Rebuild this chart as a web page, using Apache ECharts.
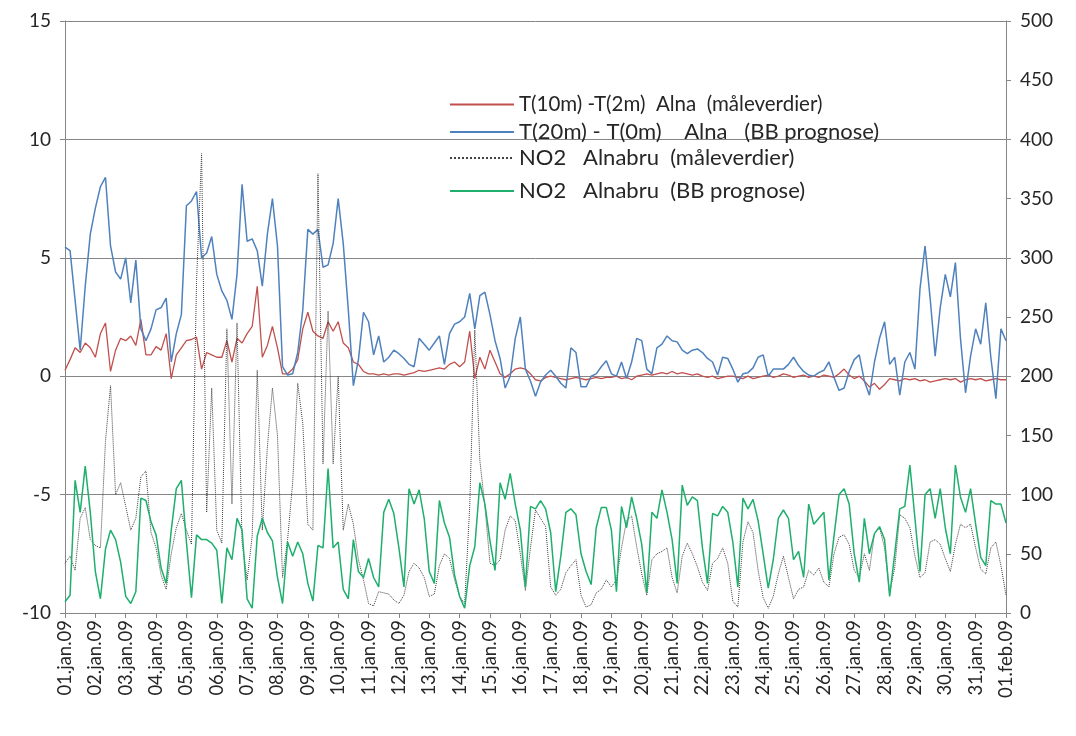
<!DOCTYPE html>
<html>
<head>
<meta charset="utf-8">
<script src="https://cdn.jsdelivr.net/npm/echarts@6/dist/echarts.min.js"></script>
<style>
html,body{margin:0;padding:0;background:#fff;}
#c{width:1076px;height:736px;}
</style>
</head>
<body>
<div id="c"></div>
<script>
// ---- data: 6 samples per day (every 4 h), 01.jan.09 00:00 .. 01.feb.09 00:00 ----
const STEPS_PER_DAY = 6;

const DATE_LABELS = ['01.jan.09','02.jan.09','03.jan.09','04.jan.09','05.jan.09','06.jan.09','07.jan.09','08.jan.09',
  '09.jan.09','10.jan.09','11.jan.09','12.jan.09','13.jan.09','14.jan.09','15.jan.09','16.jan.09','17.jan.09',
  '18.jan.09','19.jan.09','20.jan.09','21.jan.09','22.jan.09','23.jan.09','24.jan.09','25.jan.09','26.jan.09',
  '27.jan.09','28.jan.09','29.jan.09','30.jan.09','31.jan.09','01.feb.09'];

const SERIES_NAMES = [
  'T(10m) -T(2m)  Alna  (måleverdier)',
  'T(20m) - T(0m)    Alna   (BB prognose)',
  'NO2   Alnabru  (måleverdier)',
  'NO2   Alnabru  (BB prognose)'
];

// T(10m)-T(2m) measured, left axis
const T_MEAS = [
  0.25,0.7,1.2,1.0,1.4,1.2,
  0.8,1.8,2.25,0.2,1.1,1.6,
  1.5,1.7,1.3,2.4,0.9,0.9,
  1.25,1.1,1.8,-0.1,0.9,1.2,
  1.5,1.55,1.65,0.3,1.0,0.9,
  0.8,0.8,1.5,0.6,1.6,1.4,
  1.8,2.1,3.8,0.8,1.3,2.1,
  1.2,0.1,0.1,0.3,0.7,2.0,
  2.7,1.9,1.7,1.6,2.3,1.9,
  2.3,1.4,1.2,0.6,0.5,0.2,
  0.1,0.1,0.05,0.1,0.05,0.1,
  0.1,0.05,0.1,0.15,0.25,0.2,
  0.25,0.3,0.35,0.3,0.5,0.6,
  0.4,0.6,1.9,-0.1,0.8,0.3,
  1.1,0.6,0.1,-0.05,0.1,0.3,
  0.35,0.3,0.1,-0.15,-0.2,-0.05,
  0.0,-0.05,-0.1,-0.15,-0.1,-0.05,
  -0.1,-0.15,-0.1,-0.05,-0.1,-0.05,
  -0.05,0.0,-0.1,-0.05,-0.15,0.0,
  0.05,0.1,0.05,0.1,0.15,0.1,
  0.2,0.1,0.15,0.1,0.05,0.1,
  0.0,-0.05,0.0,-0.1,-0.05,0.0,
  0.0,-0.05,-0.1,0.0,-0.1,-0.05,
  0.0,0.05,-0.05,0.0,0.1,0.05,
  -0.05,0.0,0.05,-0.05,0.0,-0.05,
  0.05,0.0,-0.05,0.1,0.3,0.05,
  -0.1,0.0,-0.2,-0.45,-0.3,-0.55,
  -0.35,-0.1,-0.15,-0.2,-0.1,-0.15,
  -0.1,-0.2,-0.15,-0.25,-0.2,-0.15,
  -0.1,-0.15,-0.1,-0.25,-0.15,-0.1,
  -0.15,-0.1,-0.2,-0.15,-0.1,-0.15,
  -0.15
];

// T(20m)-T(0m) BB forecast, left axis
const T_PROG = [
  5.45,5.3,3.2,1.1,3.8,6.0,
  7.1,8.0,8.4,5.5,4.4,4.1,
  5.0,3.1,4.9,2.0,1.5,2.0,
  2.8,2.9,3.3,0.6,1.8,2.6,
  7.2,7.4,7.8,5.0,5.2,5.9,
  4.3,3.6,3.2,2.4,4.3,8.1,
  5.7,5.8,5.3,3.8,6.0,7.5,
  5.5,0.4,0.05,0.1,1.0,2.8,
  6.2,6.0,6.2,4.6,4.7,5.6,
  7.5,5.6,2.8,-0.4,0.7,2.7,
  2.3,0.9,1.7,0.6,0.8,1.1,
  0.95,0.75,0.5,0.4,1.6,1.35,
  1.1,1.4,1.7,0.5,1.8,2.2,
  2.3,2.5,3.5,2.0,3.4,3.55,
  2.6,1.5,0.75,-0.5,0.0,1.6,
  2.5,0.3,-0.2,-0.85,-0.25,0.05,
  0.25,0.0,-0.3,-0.5,1.2,1.0,
  -0.45,-0.45,0.0,0.1,0.4,0.65,
  0.1,0.0,0.6,-0.1,0.6,1.6,
  1.5,0.3,0.1,1.2,1.35,1.7,
  1.5,1.45,1.1,0.95,1.1,1.15,
  1.0,0.75,0.6,0.05,0.8,0.75,
  0.3,-0.25,0.1,0.15,0.35,0.8,
  0.9,0.0,0.3,0.3,0.3,0.5,
  0.8,0.45,0.2,0.05,0.0,0.15,
  0.25,0.6,-0.05,-0.6,-0.5,0.2,
  0.7,0.9,-0.2,-0.8,0.6,1.6,
  2.3,0.5,0.8,-0.8,0.6,1.0,
  0.3,3.7,5.5,3.3,0.85,2.9,
  4.3,3.35,4.8,1.6,-0.7,0.85,
  2.0,1.35,3.1,0.8,-0.95,2.0,
  1.5
];

// NO2 Alnabru measured, right axis
const NO2_MEAS = [
  42,48,36,80,89,62,
  57,55,145,192,100,110,
  90,70,80,115,120,68,
  55,32,20,50,72,84,
  70,58,280,388,85,190,
  70,59,240,92,245,60,
  28,65,205,70,140,190,
  150,30,62,110,194,160,
  75,70,371,126,255,126,
  200,70,92,75,45,28,
  8,6,18,17,16,11,
  8,15,35,42,38,30,
  14,16,40,50,46,28,
  14,8,90,239,129,90,
  42,40,45,70,82,78,
  50,19,55,87,80,73,
  22,15,20,34,40,45,
  15,5,7,17,20,28,
  22,28,55,78,82,56,
  33,15,45,50,52,55,
  30,17,48,59,50,39,
  26,19,42,46,55,42,
  10,5,60,77,68,36,
  13,4,14,33,48,30,
  12,20,22,36,32,38,
  26,22,50,64,66,58,
  36,30,50,36,67,72,
  55,17,38,83,80,72,
  48,30,34,60,62,58,
  46,35,58,75,72,75,
  55,37,33,55,60,40,
  15
];

// NO2 Alnabru BB forecast, right axis
const NO2_PROG = [
  9.5,15,112,85,124,85,
  35,12,54,70,62,43,
  14,8,18,97,95,77,
  66,38,25,70,105,112,
  60,13,66,62,62,59,
  53,8,55,45,80,70,
  12,4,65,80,68,61,
  30,8,60,48,60,50,
  25,10,57,55,122,55,
  60,20,12,62,35,30,
  46,30,22,85,96,84,
  55,22,105,92,104,80,
  35,25,95,76,64,32,
  14,4,40,56,110,92,
  61,36,110,96,118,92,
  70,22,90,88,95,88,
  68,18,48,85,88,83,
  50,35,24,72,89,89,
  70,18,90,72,98,80,
  58,17,85,80,104,85,
  62,25,108,91,98,95,
  55,25,84,82,90,85,
  60,22,97,88,96,78,
  50,21,45,80,87,80,
  45,52,30,92,75,80,
  85,28,65,100,105,92,
  50,26,80,50,67,73,
  62,14,50,88,90,125,
  80,35,100,105,80,105,
  72,50,125,98,85,105,
  75,47,40,95,92,92,
  76
];

// ---- chart ----
const FONT = 'Lato';
const TXT = '#262626';
const AXIS = '#868686';

function toPairs(arr){ return arr.map((v,i)=>[i/STEPS_PER_DAY, v]); }

const chart = echarts.init(document.getElementById('c'), null, {renderer:'canvas'});

const legendTops = [94, 121, 147, 180];
const legendFont = [20.5, 22, 22, 22];
const legendColors = ['#C0504D','#4F81BD','#404040','#1DAF6B'];

chart.setOption({
  animation:false,
  backgroundColor:'#fff',
  textStyle:{fontFamily:FONT},
  grid:{left:65, right:70, top:21, bottom:123},
  legend: SERIES_NAMES.map((n,i)=>({
    data:[n], left:449, top:legendTops[i], padding:0,
    itemWidth:64, itemHeight:14, itemGap:0,
    itemStyle:{opacity:0},
    textStyle:{fontFamily:FONT, fontSize:legendFont[i], color:TXT},
    selectedMode:false
  })),
  xAxis:{
    type:'value', min:0, max:DATE_LABELS.length-1, interval:1,
    axisLine:{onZero:false, lineStyle:{color:AXIS, width:1}},
    axisTick:{show:true, length:5, lineStyle:{color:AXIS}},
    splitLine:{show:false},
    axisLabel:{rotate:90, margin:7, fontFamily:FONT, fontSize:18.5, color:TXT,
      formatter:(v)=>DATE_LABELS[Math.round(v)] || ''}
  },
  yAxis:[
    {type:'value', min:-10, max:15, interval:5, position:'left',
     axisLine:{show:true, onZero:false, lineStyle:{color:AXIS}},
     axisTick:{show:true, length:5, lineStyle:{color:AXIS}},
     splitLine:{show:true, lineStyle:{color:AXIS, width:1}},
     axisLabel:{margin:14, fontFamily:FONT, fontSize:19, color:TXT}},
    {type:'value', min:0, max:500, interval:50, position:'right',
     axisLine:{show:true, onZero:false, lineStyle:{color:AXIS}},
     axisTick:{show:true, length:5, lineStyle:{color:AXIS}},
     splitLine:{show:false},
     axisLabel:{margin:14, fontFamily:FONT, fontSize:19, color:TXT}}
  ],
  series:[
    {name:SERIES_NAMES[0], type:'line', yAxisIndex:0, data:toPairs(T_MEAS),
     symbol:'none', lineStyle:{color:legendColors[0], width:1.3}, itemStyle:{color:legendColors[0]}},
    {name:SERIES_NAMES[1], type:'line', yAxisIndex:0, data:toPairs(T_PROG),
     symbol:'none', lineStyle:{color:legendColors[1], width:1.5}, itemStyle:{color:legendColors[1]}},
    {name:SERIES_NAMES[2], type:'line', yAxisIndex:1, data:toPairs(NO2_MEAS),
     symbol:'none', lineStyle:{color:legendColors[2], width:1, type:'dotted'}, itemStyle:{color:legendColors[2]}},
    {name:SERIES_NAMES[3], type:'line', yAxisIndex:1, data:toPairs(NO2_PROG),
     symbol:'none', lineStyle:{color:legendColors[3], width:1.5}, itemStyle:{color:legendColors[3]}}
  ]
});
</script>
</body>
</html>
